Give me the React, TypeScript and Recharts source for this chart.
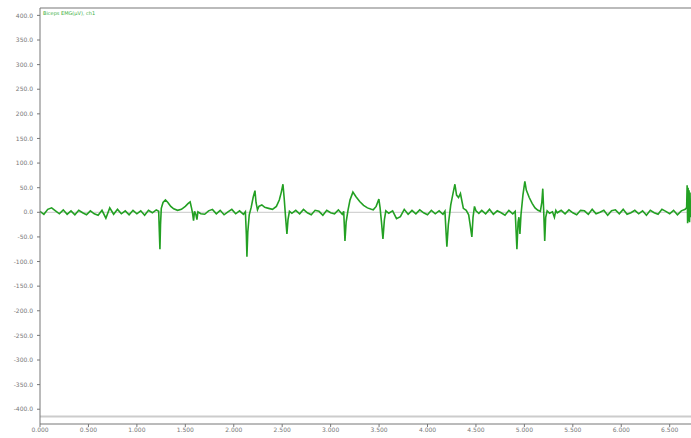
import React from 'react';
import { LineChart, Line, XAxis, YAxis, ReferenceLine } from 'recharts';

// quiet stretches, sampled every 0.04 s from their start time
const STEP = 0.04;
const quiet1 = { start: 0.0, values: [2, -4, 6, 9, 3, -3, 5, -4, 3, -5, 4, -1, -5, 3, -3, -6, 4, -12, 9, -4, 6, -3, 3, -5, 4, -3, 3, -6, 4, -1, 5] };
const quiet2 = { start: 1.7, values: [-4, 3, 6, -3, 4, -5, 1, 6, -3, 3, -4] };
const quiet3 = { start: 2.64, values: [4, -3, 6, -1, -5, 4, 2, -6, 4, -1, -3, 5, -4] };
const quiet4 = { start: 3.64, values: [3, -13, -9, 6, -4, 4, -3, 5, -1, -5, 4, -3, 3, -4] };
const quiet5 = { start: 4.56, values: [4, -3, 6, -4, 3, -1, -6, 4, -3] };
const quiet6 = {
  start: 5.38,
  values: [4, -3, 5, -1, -5, 4, 3, -4, 6, -3, 0, 4, -6, 3, 5, -3, 6, -4, -1, 4, -3, 3, -6, 4, -1, -4, 6, 2, -3, 4, -5, 3, 6],
};

// bursts: [time s, amplitude]
const burst1: [number, number][] = [
  [1.225, 2], [1.232, -40], [1.238, -75], [1.244, -25], [1.252, 8], [1.27, 20], [1.295, 25], [1.32, 20],
  [1.35, 12], [1.38, 7], [1.42, 4], [1.46, 6], [1.5, 12], [1.53, 18], [1.55, 21], [1.565, 8], [1.575, -2],
  [1.585, -17], [1.595, 2], [1.61, -5], [1.62, -15], [1.63, 1], [1.66, -3],
];
const burst2: [number, number][] = [
  [2.12, 1], [2.13, -45], [2.136, -90], [2.145, -40], [2.16, -5], [2.18, 10], [2.2, 30], [2.219, 44],
  [2.23, 20], [2.245, 5], [2.26, 12], [2.29, 15], [2.32, 10], [2.36, 8], [2.4, 6], [2.44, 12], [2.47, 25],
  [2.49, 40], [2.508, 57], [2.52, 30], [2.535, -10], [2.549, -44], [2.56, -15], [2.575, 2], [2.6, -2],
];
const burst3: [number, number][] = [
  [3.135, 2], [3.142, -30], [3.148, -58], [3.16, -20], [3.18, 5], [3.2, 25], [3.23, 41], [3.26, 32],
  [3.3, 22], [3.34, 14], [3.38, 9], [3.42, 6], [3.44, 5], [3.47, 12], [3.498, 27], [3.51, 10],
  [3.525, -20], [3.54, -54], [3.555, -15], [3.57, 3], [3.6, -2],
];
const burst4: [number, number][] = [
  [4.18, 2], [4.19, -35], [4.2, -70], [4.215, -25], [4.24, 15], [4.265, 40], [4.283, 57], [4.3, 35],
  [4.32, 30], [4.34, 38], [4.355, 23], [4.37, 8], [4.4, 4], [4.425, -5], [4.44, -25], [4.458, -50],
  [4.47, -10], [4.485, 12], [4.5, 3], [4.53, -2],
];
const burst5: [number, number][] = [
  [4.905, 2], [4.915, -40], [4.923, -75], [4.935, -20], [4.944, -10], [4.954, -44], [4.965, -5],
  [4.985, 35], [5.005, 63], [5.02, 45], [5.05, 30], [5.08, 18], [5.11, 9], [5.14, 4], [5.165, 2],
  [5.18, 20], [5.19, 48], [5.2, 0], [5.21, -58], [5.22, -10], [5.235, 3], [5.26, -2], [5.29, 1],
  [5.31, -10], [5.325, 4], [5.34, -1],
];
const burstEnd: [number, number][] = [
  [6.675, 10], [6.68, 55], [6.685, -22], [6.69, 50], [6.695, -18], [6.7, 45], [6.705, -20],
  [6.71, 40], [6.715, -10], [6.72, 20],
];

const xTicks = [0, 0.5, 1, 1.5, 2, 2.5, 3, 3.5, 4, 4.5, 5, 5.5, 6, 6.5];
const yTicks = [-400, -350, -300, -250, -200, -150, -100, -50, 0, 50, 100, 150, 200, 250, 300, 350, 400];

const channelLabel = 'Biceps EMG(µV), ch1';

const quietPoints = [quiet1, quiet2, quiet3, quiet4, quiet5, quiet6].flatMap((q) =>
  q.values.map((v, i) => [+(q.start + i * STEP).toFixed(3), v] as [number, number])
);

const data = [...quietPoints, ...burst1, ...burst2, ...burst3, ...burst4, ...burst5, ...burstEnd]
  .sort((a, b) => a[0] - b[0])
  .map(([t, v]) => ({ t, v }));

const GREEN = '#23a023';
const AXIS = '#777';

export default function App() {
  return (
    <div style={{ position: 'absolute', left: 0, top: 0, width: 691, height: 438, background: '#fff' }}>
      <LineChart width={691} height={438} data={data} margin={{ top: 8, right: 0, left: 0, bottom: 0 }}>
        <XAxis
          dataKey="t"
          type="number"
          domain={[0, 6.72]}
          ticks={xTicks}
          tickFormatter={(v: number) => v.toFixed(3)}
          height={14}
          tickSize={3}
          tickMargin={1}
          stroke={AXIS}
          tick={{ fontSize: 6, fill: AXIS, fontFamily: 'DejaVu Sans' }}
          allowDataOverflow
        />
        <YAxis
          type="number"
          domain={[-430, 415]}
          ticks={yTicks}
          tickFormatter={(v: number) => v.toFixed(1)}
          width={40}
          tickSize={3}
          tickMargin={4}
          stroke={AXIS}
          tick={{ fontSize: 6, fill: AXIS, fontFamily: 'DejaVu Sans' }}
          allowDataOverflow
        />
        <ReferenceLine y={415} stroke="#bbb" strokeWidth={2} />
        <ReferenceLine y={-415} stroke="#ccc" strokeWidth={2} />
        <ReferenceLine y={0} stroke="#c8c8c8" strokeWidth={1} />
        <Line
          dataKey="v"
          type="linear"
          stroke={GREEN}
          strokeWidth={1.6}
          dot={false}
          isAnimationActive={false}
        />
      </LineChart>
      <div
        style={{
          position: 'absolute',
          left: 43,
          top: 10,
          fontSize: 5,
          color: '#3cb043',
          fontFamily: 'DejaVu Sans',
          whiteSpace: 'nowrap',
        }}
      >
        {channelLabel}
      </div>
    </div>
  );
}
